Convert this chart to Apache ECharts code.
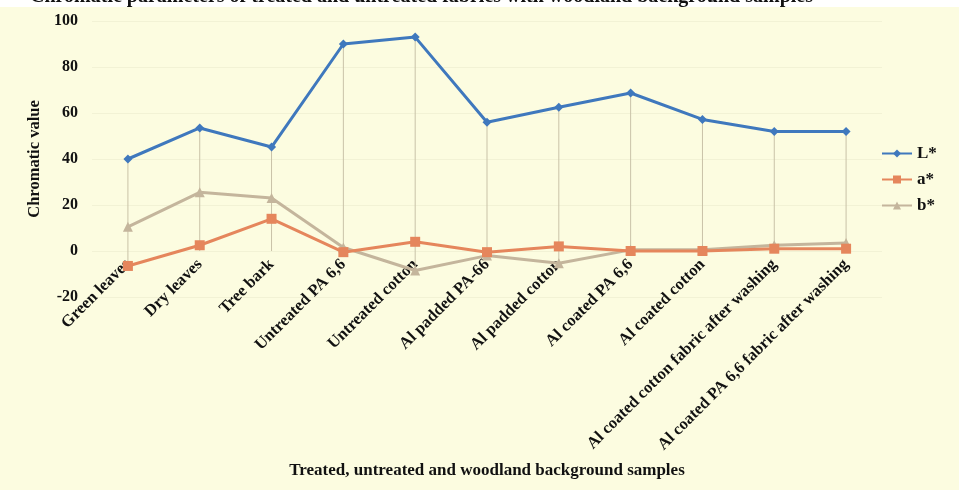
<!DOCTYPE html>
<html>
<head>
<meta charset="utf-8">
<script src="https://cdn.jsdelivr.net/npm/echarts@6/dist/echarts.min.js"></script>
<style>
html,body{margin:0;padding:0;background:#fdfde4;}
#chart{width:959px;height:490px;}
</style>
</head>
<body>
<div id="chart"></div>
<script>
const titleText = 'Chromatic parameters of treated and untreated fabrics with woodland background samples';
const categories = ['Green leaves','Dry leaves','Tree bark','Untreated PA 6,6','Untreated cotton','Al padded PA-66','Al padded cotton','Al coated PA 6,6','Al coated cotton','Al coated cotton fabric after washing','Al coated PA 6,6 fabric after washing'];
const seriesNames = ['L*','a*','b*'];
const Lvals = [40, 53.5, 45.2, 90, 93, 56, 62.5, 68.7, 57.2, 52, 52];
const avals = [-6.5, 2.5, 14, -0.5, 4, -0.5, 2, 0, 0, 1, 1];
const bvals = [10.5, 25.5, 23, 1.5, -8.5, -2, -5.3, 0.5, 0.5, 2.5, 3.5];
const yTicks = {min: -20, max: 100, interval: 20};

const serif = '"Liberation Serif","DejaVu Serif",serif';
const chart = echarts.init(document.getElementById('chart'));

const dropData = categories.map((c, i) => {
  const vs = [Lvals[i], avals[i], bvals[i], 0];
  return [i, Math.max(...vs), Math.min(...vs)];
});

chart.setOption({
  backgroundColor: '#fcfce0',
  animation: false,
  title: {
    text: titleText, left: 25, top: -18,
    textStyle: {fontFamily: serif, fontWeight: 'bold', fontSize: 20, color: '#111'}
  },
  graphic: [{type: 'rect', left: 0, top: 0, z: -1, shape: {width: 959, height: 7}, style: {fill: '#ffffff'}}],
  grid: {left: 92, right: 77, top: 21, bottom: 193, containLabel: false, outerBoundsMode: 'none'},
  legend: {
    orient: 'vertical', left: 876, top: 140, itemGap: 9, itemWidth: 30, itemHeight: 10,
    data: seriesNames,
    textStyle: {fontFamily: serif, fontWeight: 'bold', fontSize: 17, color: '#111'}
  },
  xAxis: {
    type: 'category', data: categories, boundaryGap: true,
    axisLine: {show: false, onZero: true},
    axisTick: {show: false},
    axisLabel: {rotate: 45, interval: 0, margin: -35, fontFamily: serif, fontWeight: 'bold', fontSize: 16.5, color: '#111'},
    name: 'Treated, untreated and woodland background samples',
    nameLocation: 'middle', nameGap: 165,
    nameTextStyle: {fontFamily: serif, fontWeight: 'bold', fontSize: 17, color: '#111'}
  },
  yAxis: {
    type: 'value', min: yTicks.min, max: yTicks.max, interval: yTicks.interval,
    axisLine: {show: false}, axisTick: {show: false},
    splitLine: {show: true, lineStyle: {color: 'rgba(220,220,190,0.3)'}},
    axisLabel: {margin: 14, fontFamily: serif, fontWeight: 'bold', fontSize: 16, color: '#111'},
    name: 'Chromatic value', nameLocation: 'middle', nameGap: 38,
    nameTextStyle: {fontFamily: serif, fontWeight: 'bold', fontSize: 16.5, color: '#111'}
  },
  series: [
    {
      type: 'custom', name: 'drop', silent: true, z: 1,
      data: dropData,
      encode: {x: 0, y: [1, 2]},
      renderItem: function (params, api) {
        const p1 = api.coord([api.value(0), api.value(1)]);
        const p2 = api.coord([api.value(0), api.value(2)]);
        return {type: 'line', shape: {x1: p1[0], y1: p1[1], x2: p2[0], y2: p2[1]},
          style: {stroke: '#c9c2a8', lineWidth: 1}};
      }
    },
    {
      name: 'L*', type: 'line', data: Lvals, z: 4,
      symbol: 'diamond', symbolSize: 9,
      itemStyle: {color: '#3f78bd'}, lineStyle: {color: '#3f78bd', width: 3}
    },
    {
      name: 'a*', type: 'line', data: avals, z: 3,
      symbol: 'rect', symbolSize: 10,
      itemStyle: {color: '#e5865c'}, lineStyle: {color: '#e5865c', width: 3}
    },
    {
      name: 'b*', type: 'line', data: bvals, z: 2,
      symbol: 'triangle', symbolSize: 10,
      itemStyle: {color: '#c4b59c'}, lineStyle: {color: '#c4b59c', width: 3}
    }
  ]
});
</script>
</body>
</html>
